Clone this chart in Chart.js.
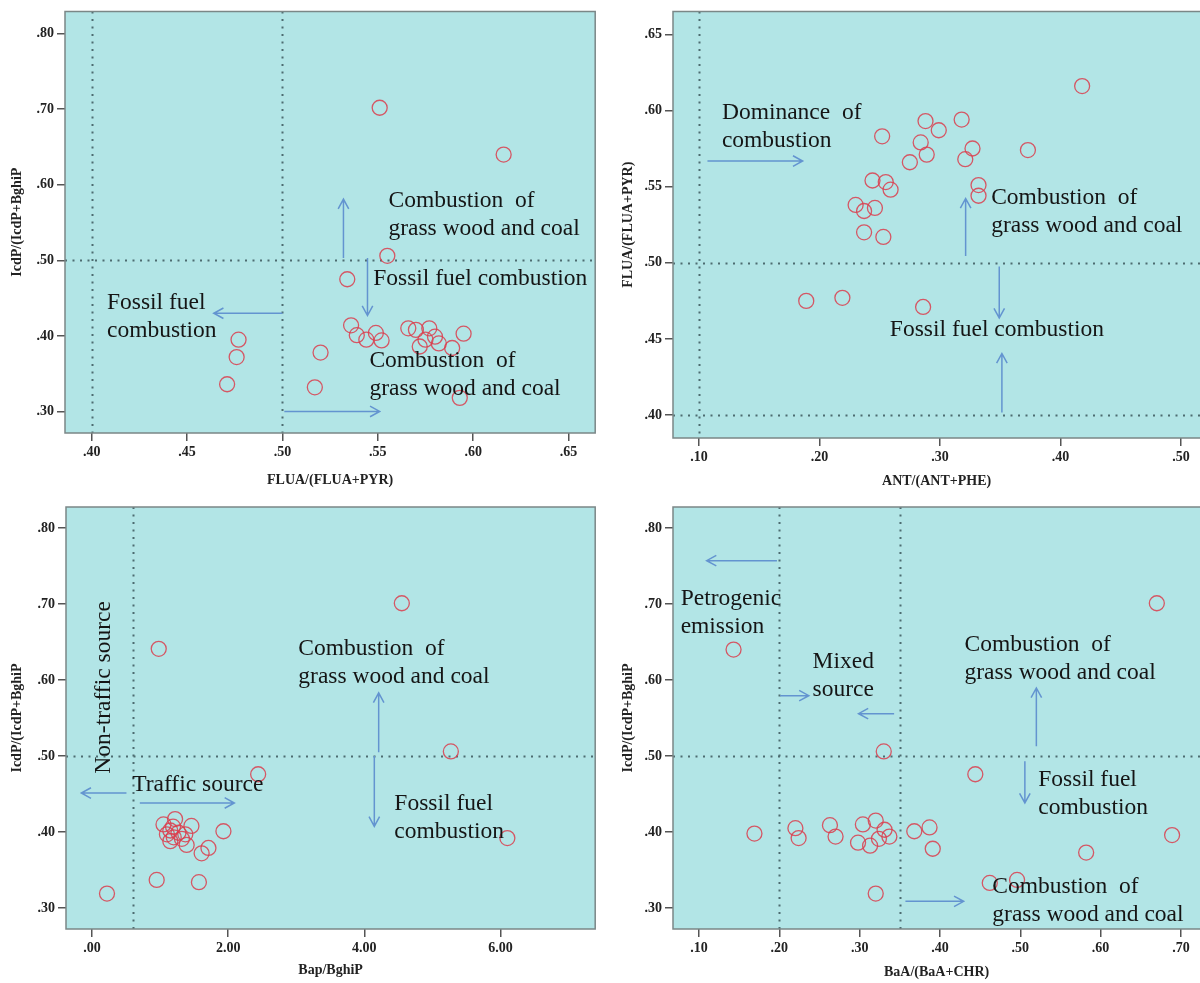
<!DOCTYPE html>
<html>
<head>
<meta charset="utf-8">
<script src="https://cdn.jsdelivr.net/npm/chart.js@4/dist/chart.umd.min.js"></script>
<style>
  body { margin: 0; background: #fff; }
  #wrap { position: relative; width: 1200px; height: 983px; overflow: hidden; }
  .panel { position: absolute; }
</style>
</head>
<body>
<div id="wrap">
  <!-- containers a little wider than 600: Chart.js keeps ~9px right of the plot for the end tick label -->
  <div class="panel" style="left:0;top:0;width:604px;height:490px"><canvas id="c1"></canvas></div>
  <div class="panel" style="left:600px;top:0;width:609px;height:490px"><canvas id="c2"></canvas></div>
  <div class="panel" style="left:0;top:490px;width:604px;height:493px"><canvas id="c3"></canvas></div>
  <div class="panel" style="left:600px;top:490px;width:609px;height:493px"><canvas id="c4"></canvas></div>
</div>
<script>
// ---- data ----
const p1X = [0.551, 0.616, 0.555, 0.534, 0.536, 0.539, 0.544, 0.549, 0.552, 0.566, 0.570, 0.572,
             0.575, 0.577, 0.580, 0.582, 0.589, 0.595, 0.593, 0.477, 0.476, 0.471, 0.520, 0.517];
const p1Y = [0.702, 0.640, 0.506, 0.475, 0.414, 0.401, 0.395, 0.404, 0.394, 0.410, 0.408, 0.386,
             0.395, 0.410, 0.399, 0.390, 0.384, 0.403, 0.318, 0.395, 0.372, 0.336, 0.378, 0.332];

const p2X = [0.418, 0.252, 0.288, 0.299, 0.318, 0.284, 0.289, 0.275, 0.321, 0.327, 0.373, 0.332,
             0.332, 0.244, 0.255, 0.259, 0.230, 0.237, 0.246, 0.237, 0.253, 0.189, 0.219, 0.286];
const p2Y = [0.616, 0.583, 0.593, 0.587, 0.594, 0.579, 0.571, 0.566, 0.568, 0.575, 0.574, 0.551,
             0.544, 0.554, 0.553, 0.548, 0.538, 0.534, 0.536, 0.520, 0.517, 0.475, 0.477, 0.471];

const p3X = [4.55, 0.98, 5.27, 2.44, 6.10, 1.93, 1.05, 1.22, 1.19, 1.46, 1.10, 1.15,
             1.27, 1.37, 1.39, 1.61, 1.71, 1.15, 1.32, 1.20, 0.95, 1.57, 0.22];
const p3Y = [0.701, 0.641, 0.506, 0.476, 0.392, 0.401, 0.410, 0.417, 0.407, 0.408, 0.397, 0.388,
             0.399, 0.397, 0.383, 0.372, 0.379, 0.402, 0.391, 0.393, 0.337, 0.334, 0.319];

const p4X = [0.670, 0.143, 0.330, 0.444, 0.169, 0.220, 0.224, 0.263, 0.270, 0.298, 0.304, 0.313,
             0.320, 0.324, 0.331, 0.337, 0.368, 0.387, 0.391, 0.462, 0.496, 0.582, 0.689, 0.320];
const p4Y = [0.701, 0.640, 0.506, 0.476, 0.398, 0.405, 0.392, 0.409, 0.394, 0.386, 0.410, 0.382,
             0.415, 0.391, 0.403, 0.394, 0.401, 0.406, 0.378, 0.333, 0.337, 0.373, 0.396, 0.319];

// tick values
const p1XTicks = [0.40, 0.45, 0.50, 0.55, 0.60, 0.65];
const p2XTicks = [0.10, 0.20, 0.30, 0.40, 0.50];
const p3XTicks = [0, 2, 4, 6];
const p4XTicks = [0.10, 0.20, 0.30, 0.40, 0.50, 0.60, 0.70];
const ratioYTicks = [0.30, 0.40, 0.50, 0.60, 0.70, 0.80];
const fluaYTicks = [0.40, 0.45, 0.50, 0.55, 0.60, 0.65];

// threshold (dotted) lines
const p1VLines = [0.40, 0.50], p1HLines = [0.50];
const p2VLines = [0.10],       p2HLines = [0.50, 0.40];
const p3VLines = [0.60],       p3HLines = [0.50];
const p4VLines = [0.20, 0.35], p4HLines = [0.50];

// labels placed in data units: [x, baseline y, text lines]
const p1Notes = [
  [0.5556, 0.570, ['Combustion  of', 'grass wood and coal']],
  [0.5476, 0.467, ['Fossil fuel combustion']],
  [0.408, 0.436, ['Fossil fuel', 'combustion']],
  [0.5456, 0.359, ['Combustion  of', 'grass wood and coal']]
];
const p1Arrows = [[0.532, 0.503, 0.532, 0.581], [0.5446, 0.503, 0.5446, 0.427],
                  [0.500, 0.430, 0.464, 0.430], [0.501, 0.300, 0.551, 0.300]];

const p2Notes = [
  [0.119, 0.5945, ['Dominance  of', 'combustion']],
  [0.3425, 0.5385, ['Combustion  of', 'grass wood and coal']],
  [0.2584, 0.4518, ['Fossil fuel combustion']]
];
const p2Arrows = [[0.107, 0.5668, 0.186, 0.5668], [0.3213, 0.5045, 0.3213, 0.5422],
                  [0.3492, 0.4976, 0.3492, 0.4638], [0.3514, 0.4017, 0.3514, 0.4405]];

const p3Notes = [
  [0.59, 0.4535, ['Traffic source']],
  [3.03, 0.6333, ['Combustion  of', 'grass wood and coal']],
  [4.44, 0.4294, ['Fossil fuel', 'combustion']]
];
const p3Rotated = [[0.27, 0.4768, 'Non-traffic source']];
const p3Arrows = [[0.506, 0.4513, -0.157, 0.4513], [0.702, 0.4382, 2.09, 0.4382],
                  [4.21, 0.505, 4.21, 0.583], [4.146, 0.500, 4.146, 0.4075]];

const p4Notes = [
  [0.0771, 0.699, ['Petrogenic', 'emission']],
  [0.2414, 0.6158, ['Mixed', 'source']],
  [0.4305, 0.6377, ['Combustion  of', 'grass wood and coal']],
  [0.5224, 0.460, ['Fossil fuel', 'combustion']],
  [0.4652, 0.3197, ['Combustion  of', 'grass wood and coal']]
];
const p4Arrows = [[0.197, 0.757, 0.1095, 0.757], [0.201, 0.5794, 0.2367, 0.5794],
                  [0.3429, 0.5557, 0.2986, 0.5557], [0.520, 0.5127, 0.520, 0.5895],
                  [0.5057, 0.493, 0.5057, 0.4382], [0.357, 0.3088, 0.4295, 0.3088]];

// ---- drawing helpers ----
const SERIF = '"Liberation Serif", "DejaVu Serif", serif';
const PLOT_BG = '#b2e5e6';
const ARROW_COLOR = '#6394d0';

function fmtTick(v) {
    return v.toFixed(2).replace(/^0\./, '.');
}

function drawArrow(ctx, x1, y1, x2, y2) {
    const ang = Math.atan2(y2 - y1, x2 - x1);
    const head = 11, spread = 0.5;
    ctx.beginPath();
    ctx.moveTo(x1, y1);
    ctx.lineTo(x2, y2);
    ctx.moveTo(x2 - head * Math.cos(ang - spread), y2 - head * Math.sin(ang - spread));
    ctx.lineTo(x2, y2);
    ctx.lineTo(x2 - head * Math.cos(ang + spread), y2 - head * Math.sin(ang + spread));
    ctx.stroke();
}

// background, dotted thresholds, frame and labels
const panelDecor = {
    id: 'panelDecor',
    beforeDatasetsDraw(chart, args, opts) {
        const {ctx, chartArea: a, scales: {x, y}} = chart;
        ctx.save();
        ctx.fillStyle = PLOT_BG;
        ctx.fillRect(a.left, a.top, a.right - a.left, a.bottom - a.top);

        ctx.strokeStyle = '#4d6c70';
        ctx.lineWidth = 2;
        ctx.setLineDash([2, 5.5]);
        (opts.vLines || []).forEach(v => {
            const px = Math.round(x.getPixelForValue(v)) + 0.5;
            ctx.beginPath(); ctx.moveTo(px, a.top); ctx.lineTo(px, a.bottom); ctx.stroke();
        });
        (opts.hLines || []).forEach(v => {
            const py = Math.round(y.getPixelForValue(v)) + 0.5;
            ctx.beginPath(); ctx.moveTo(a.left, py); ctx.lineTo(a.right, py); ctx.stroke();
        });
        ctx.setLineDash([]);

        ctx.strokeStyle = '#7b8787';
        ctx.lineWidth = 1.5;
        ctx.beginPath();
        if (opts.openRight) {
            ctx.moveTo(a.right, a.top);
            ctx.lineTo(a.left, a.top);
            ctx.lineTo(a.left, a.bottom);
            ctx.lineTo(a.right, a.bottom);
        } else {
            ctx.rect(a.left, a.top, a.right - a.left, a.bottom - a.top);
        }
        ctx.stroke();
        ctx.restore();
    },
    afterDatasetsDraw(chart, args, opts) {
        const {ctx, scales: {x, y}} = chart;
        ctx.save();
        ctx.strokeStyle = ARROW_COLOR;
        ctx.lineWidth = 1.5;
        (opts.arrows || []).forEach(([x1, y1, x2, y2]) => {
            drawArrow(ctx, x.getPixelForValue(x1), y.getPixelForValue(y1),
                      x.getPixelForValue(x2), y.getPixelForValue(y2));
        });
        ctx.fillStyle = '#151515';
        ctx.font = '23.5px ' + SERIF;
        ctx.textBaseline = 'alphabetic';
        (opts.notes || []).forEach(([nx, ny, lines]) => {
            const px = x.getPixelForValue(nx), py = y.getPixelForValue(ny);
            lines.forEach((t, i) => ctx.fillText(t, px, py + i * 28));
        });
        (opts.rotated || []).forEach(([nx, ny, t]) => {
            ctx.save();
            ctx.translate(x.getPixelForValue(nx), y.getPixelForValue(ny));
            ctx.rotate(-Math.PI / 2);
            ctx.fillText(t, 0, 0);
            ctx.restore();
        });
        ctx.restore();
    }
};

function makeAxis(cfg) {
    return {
        type: 'linear',
        min: cfg.min,
        max: cfg.max,
        afterBuildTicks: s => { s.ticks = cfg.ticks.map(v => ({value: v})); },
        afterFit: s => {
            if (cfg.width) s.width = cfg.width;
            if (cfg.height) s.height = cfg.height;
        },
        grid: { drawOnChartArea: false, tickLength: 8, color: '#555', lineWidth: 1.5 },
        border: { display: false },
        ticks: {
            callback: v => fmtTick(v),
            color: '#222',
            padding: 3,
            maxRotation: 0,
            autoSkip: false,
            font: { family: SERIF, size: 14, weight: 'bold' }
        },
        title: {
            display: true,
            text: cfg.title,
            color: '#222',
            padding: cfg.titlePad,
            font: { family: SERIF, size: 14, weight: 'bold' }
        }
    };
}

function makePanel(id, p) {
    const ctx = document.getElementById(id);
    return new Chart(ctx.getContext('2d'), {
        type: 'scatter',
        data: {
            datasets: [{
                data: p.xs.map((v, i) => ({x: v, y: p.ys[i]})),
                pointStyle: 'circle',
                pointRadius: 7.5,
                pointBorderWidth: 1.3,
                borderColor: 'rgba(218, 62, 78, 0.85)',
                backgroundColor: 'rgba(0,0,0,0)'
            }]
        },
        options: {
            responsive: true,
            maintainAspectRatio: false,
            animation: false,
            events: [],
            layout: { padding: p.padding },
            plugins: {
                legend: { display: false },
                tooltip: { enabled: false },
                panelDecor: p.decor
            },
            scales: { x: p.xAxis, y: p.yAxis }
        },
        plugins: [panelDecor]
    });
}

makePanel('c1', {
    xs: p1X, ys: p1Y,
    padding: {top: 10, right: 0, left: 0, bottom: 0},
    xAxis: makeAxis({min: 0.386, max: 0.664, ticks: p1XTicks, height: 57,
                     title: 'FLUA/(FLUA+PYR)', titlePad: {top: 0, bottom: 1}}),
    yAxis: makeAxis({min: 0.2715, max: 0.8295, ticks: ratioYTicks, width: 65,
                     title: 'IcdP/(IcdP+BghiP', titlePad: {top: 9, bottom: 0}}),
    decor: {vLines: p1VLines, hLines: p1HLines, notes: p1Notes, arrows: p1Arrows}
});

makePanel('c2', {
    xs: p2X, ys: p2Y,
    padding: {top: 10, right: 0, left: 0, bottom: 0},
    xAxis: makeAxis({min: 0.0784, max: 0.516, ticks: p2XTicks, height: 52,
                     title: 'ANT/(ANT+PHE)', titlePad: {top: 0, bottom: 0}}),
    yAxis: makeAxis({min: 0.385, max: 0.665, ticks: fluaYTicks, width: 73,
                     title: 'FLUA/(FLUA+PYR)', titlePad: {top: 20, bottom: 0}}),
    decor: {vLines: p2VLines, hLines: p2HLines, notes: p2Notes, arrows: p2Arrows, openRight: true}
});

makePanel('c3', {
    xs: p3X, ys: p3Y,
    padding: {top: 17, right: 0, left: 0, bottom: 0},
    xAxis: makeAxis({min: -0.382, max: 7.39, ticks: p3XTicks, height: 54,
                     title: 'Bap/BghiP', titlePad: {top: 0, bottom: 4}}),
    yAxis: makeAxis({min: 0.2724, max: 0.8276, ticks: ratioYTicks, width: 66,
                     title: 'IcdP/(IcdP+BghiP', titlePad: {top: 9, bottom: 0}}),
    decor: {vLines: p3VLines, hLines: p3HLines, notes: p3Notes, arrows: p3Arrows, rotated: p3Rotated}
});

makePanel('c4', {
    xs: p4X, ys: p4Y,
    padding: {top: 17, right: 0, left: 0, bottom: 0},
    xAxis: makeAxis({min: 0.0676, max: 0.724, ticks: p4XTicks, height: 54,
                     title: 'BaA/(BaA+CHR)', titlePad: {top: 0, bottom: 2}}),
    yAxis: makeAxis({min: 0.2724, max: 0.8276, ticks: ratioYTicks, width: 73,
                     title: 'IcdP/(IcdP+BghiP', titlePad: {top: 20, bottom: 0}}),
    decor: {vLines: p4VLines, hLines: p4HLines, notes: p4Notes, arrows: p4Arrows, openRight: true}
});
</script>
</body>
</html>
